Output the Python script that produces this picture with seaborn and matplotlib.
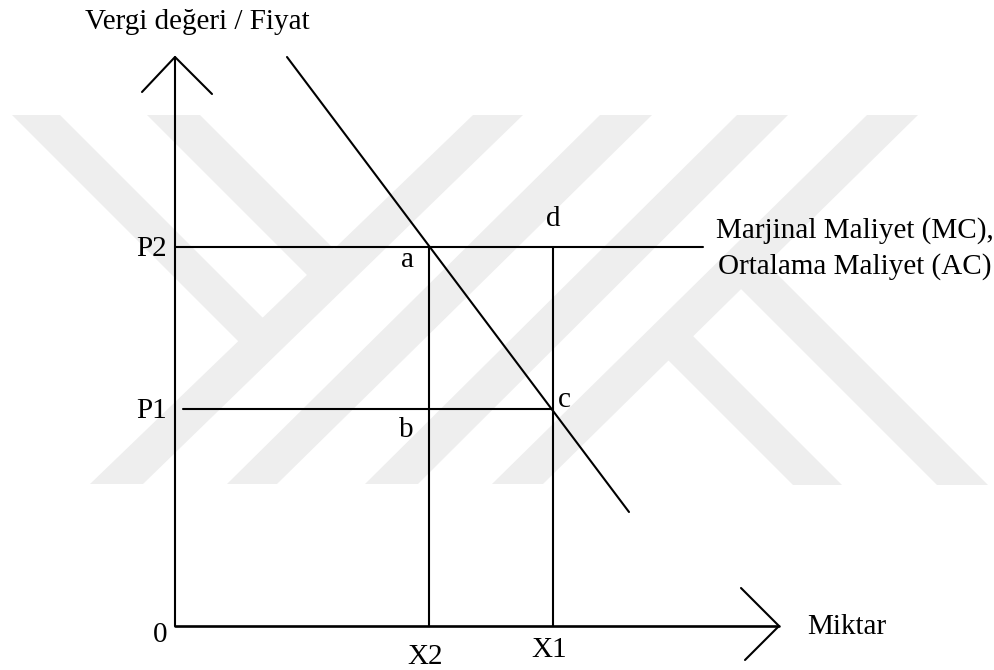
import matplotlib
matplotlib.use("Agg")
import matplotlib.pyplot as plt
import numpy as np
import pandas as pd
import seaborn as sns

# diagram values, measured from the corner of the axes (0, 0)
quantity_names = ["X2", "X1"]
quantity_values = [254, 378]
price_names = ["P2", "P1"]
price_values = [379, 217]
point_names = ["a", "b", "c", "d"]

demand_x = [112, 454]
demand_y = [569, 114]

mc_length = 528          # how far the MC / AC line runs
p1_start = 8             # P1 line starts a little off the axis
y_axis_top = 569
x_axis_end = 604

# watermark bands in picture pixels (top-left, top-right, bottom-right, bottom-left)
slash_bands = [
    [(473, 115), (523, 115), (143, 484), (90, 484)],
    [(600, 115), (652, 115), (277, 484), (227, 484)],
    [(737, 115), (788, 115), (418, 484), (365, 484)],
    [(867, 115), (918, 115), (543, 484), (492, 484)],
]
back_top = [(12, 60), (147, 200)]      # "\" bands hanging from the top
back_bottom = [(793, 842), (937, 988)]  # "\" bands standing on the bottom

ORIGIN = (175, 626)


def to_data(px, py):
    return px - ORIGIN[0], ORIGIN[1] - py


def cross(p, d, a, b):
    # point where p + t*d meets the line a-b
    p, d, a, b = map(np.array, (p, d, a, b))
    e = b - a
    m = np.array([[d[0], -e[0]], [d[1], -e[1]]])
    t, _ = np.linalg.solve(m, a - p)
    return tuple(p + t * d)


def centre_line(band):
    tl, tr, br, bl = band
    top = ((tl[0] + tr[0]) / 2, tl[1])
    bot = ((bl[0] + br[0]) / 2, bl[1])
    return top, bot


sns.set_theme(style="white")
plt.rcParams["font.family"] = ["Liberation Serif", "DejaVu Serif"]

fig = plt.figure(figsize=(9.95, 6.7), dpi=100)
ax = fig.add_axes([0, 0, 1, 1])
ax.set_xlim(-ORIGIN[0], 995 - ORIGIN[0])
ax.set_ylim(ORIGIN[1] - 670, ORIGIN[1])
ax.axis("off")

# watermark
wm = "#eeeeee"
polys = [list(b) for b in slash_bands]
c1 = centre_line(slash_bands[0])
for l, r in back_top:
    el = cross((l, 115), (1, 1), *c1)
    er = cross((r, 115), (1, 1), *c1)
    polys.append([(l, 115), (r, 115), er, el])
c4 = centre_line(slash_bands[3])
for l, r in back_bottom:
    el = cross((l, 485), (-1, -1), *c4)
    er = cross((r, 485), (-1, -1), *c4)
    polys.append([el, er, (r, 485), (l, 485)])
for poly in polys:
    xs, ys = zip(*[to_data(*p) for p in poly])
    ax.fill(xs, ys, color=wm, lw=0, zorder=0)

lw = 1.5
k = "black"

# axes with open arrow heads
ax.plot([0, 0], [0, y_axis_top], color=k, lw=lw)
ax.plot([-33, 0, 37], [y_axis_top - 35, y_axis_top, y_axis_top - 37], color=k, lw=lw)
ax.plot([0, x_axis_end], [0, 0], color=k, lw=1.9)
ax.plot([x_axis_end - 38, x_axis_end, x_axis_end - 34], [38, 0, -34], color=k, lw=lw)

# demand curve
demand = pd.DataFrame({"q": demand_x, "p": demand_y})
sns.lineplot(data=demand, x="q", y="p", color=k, lw=lw, sort=False, ax=ax)

# MC = AC line and P1 line
p2, p1 = price_values
x2, x1 = quantity_values
mc = pd.DataFrame({"q": [0, mc_length], "p": [p2, p2]})
sns.lineplot(data=mc, x="q", y="p", color=k, lw=lw, ax=ax)
ax.plot([p1_start, x1], [p1, p1], color=k, lw=lw)

# drop lines
for q in quantity_values:
    ax.plot([q, q], [0, p2], color=k, lw=lw)

fs = 21
txt = dict(fontsize=fs, color=k, va="baseline")
ax.text(22, 597, "Vergi değeri / Fiyat", ha="center", **txt)
for name, val in zip(price_names, price_values):
    ax.text(-8, val - 9, name, ha="right", **txt)
for name, val, dy in zip(quantity_names, quantity_values, [-38, -31]):
    ax.text(val - 4, dy, name, ha="center", **txt)
ax.text(-15, -16, "0", ha="center", **txt)
ax.text(632, -8, "Miktar", ha="left", **txt)
ax.text(680, 388, "Marjinal Maliyet (MC),", ha="center", **txt)
ax.text(680, 352, "Ortalama Maliyet (AC)", ha="center", **txt)

label_pos = [(x2 - 22, p2 - 20), (x2 - 23, p1 - 28), (x1 + 11, p1 + 2), (x1, p2 + 21)]
for name, (lx, ly) in zip(point_names, label_pos):
    ax.text(lx, ly, name, ha="center", **txt)

fig.savefig("out.png", dpi=100, facecolor="white")
